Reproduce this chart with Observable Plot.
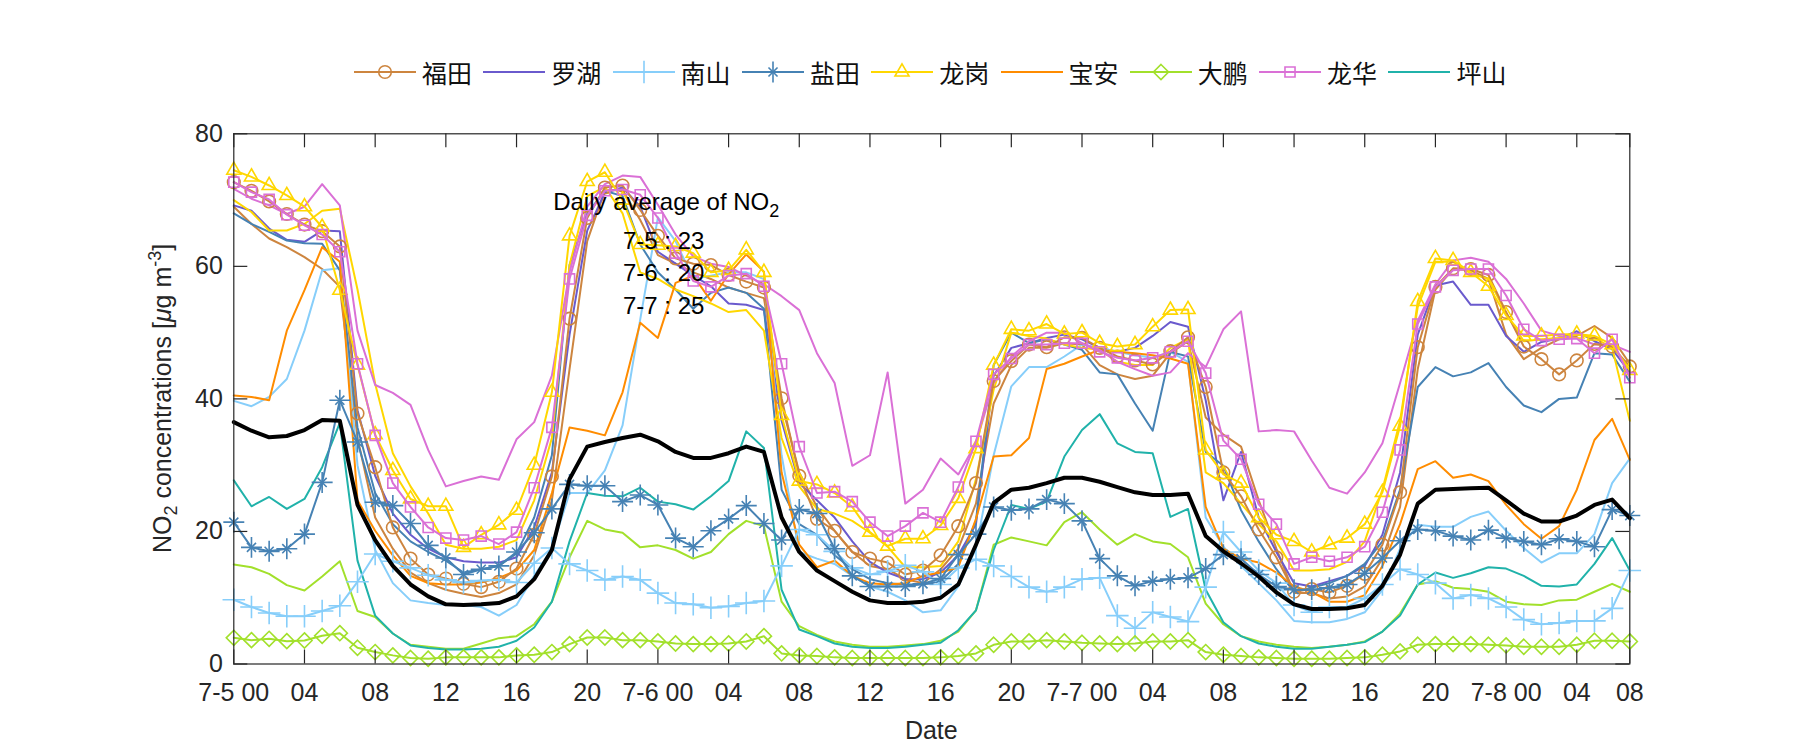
<!DOCTYPE html>
<html>
<head>
<meta charset="utf-8">
<script src="https://cdn.jsdelivr.net/npm/d3@7"></script>
<script src="https://cdn.jsdelivr.net/npm/@observablehq/plot@0.6"></script>
<style>
html, body { margin: 0; padding: 0; background: #fff; }
#wrap { width: 1800px; height: 750px; position: relative; overflow: hidden; background: #fff; }
#legend { position: relative; width: 1800px; height: 100px; }
.item { position: absolute; top: 56.7px; height: 30px; display: flex; align-items: center; }
.item span { font-family: "Noto Sans CJK SC", sans-serif; font-size: 25px; color: #111; margin-left: 6px; line-height: 30px; }
.item svg { display: block; }
</style>
</head>
<body>
<div id="wrap">
  <div id="legend"></div>
  <div id="chart"></div>
</div>
<script>
// ---------------- data ----------------
const districtNames = ["福田", "罗湖", "南山", "盐田", "龙岗", "宝安", "大鹏", "龙华", "坪山"];
const districtColors = ["#CD853F", "#6A5ACD", "#87CEFA", "#4682B4", "#FFD700", "#FF8C00", "#A2E02B", "#DA70D6", "#20B2AA"];
const districtSymbols = ["circle", null, "plus", "asterisk", "triangle2", null, "diamond2", "square2", null];

const xTickPos = [0, 4, 8, 12, 16, 20, 24, 28, 32, 36, 40, 44, 48, 52, 56, 60, 64, 68, 72, 76, 79];
const xTickLabels = ["7-5 00", "04", "08", "12", "16", "20", "7-6 00", "04", "08", "12", "16", "20",
                     "7-7 00", "04", "08", "12", "16", "20", "7-8 00", "04", "08"];
const yTicks = [0, 20, 40, 60, 80];

const dailyAverageLabels = ["7-5 : 23", "7-6 : 20", "7-7 : 25"];

const futianMarked = [72.7,71.4,69.8,67.9,66.3,65.3,63.0,37.8,29.7,20.6,
 15.9,13.5,12.9,12.1,11.6,12.4,14.4,19.5,28.3,52.1,
 67.3,71.9,72.2,68.5,64.6,61.2,60.4,60.2,58.7,57.7,
 56.8,40.1,28.4,21.9,20.1,16.9,15.9,15.3,13.5,14.1,
 16.4,20.8,27.3,42.7,45.7,48.2,47.8,49.3,49.2,47.7,
 46.4,45.8,45.2,47.2,49.3,41.8,28.9,25.3,20.3,16.1,
 10.9,11.3,10.8,11.8,13.6,18.0,25.9,47.8,56.9,59.7,
 59.6,58.7,53.1,47.9,46.0,43.7,45.8,48.3,47.9,44.9];
const futianPlain = [69.0,66.4,64.2,62.9,61.4,59.6,56.9,34.1,22.1,17.4,
 13.8,12.2,11.2,10.6,10.1,10.7,12.0,16.4,24.7,44.5,
 63.8,71.5,71.5,67.0,61.7,60.4,59.1,58.1,56.8,56.0,
 55.2,39.3,28.9,23.7,20.1,16.9,14.8,14.3,12.8,12.2,
 14.3,17.4,24.2,39.3,45.1,47.7,47.7,48.4,48.2,45.1,
 43.7,43.0,43.5,46.9,48.7,37.2,34.6,32.8,24.7,17.4,
 10.7,10.7,9.9,10.2,11.7,15.9,23.7,44.5,56.5,59.6,
 59.4,58.1,49.7,46.0,47.7,49.0,49.5,51.0,49.2,45.3];
const luohu = [69.2,68.4,65.7,64.0,63.7,65.4,65.3,38.3,28.4,22.7,
 19.5,17.4,16.1,15.5,15.3,15.3,16.1,20.6,28.9,49.7,
 65.4,71.1,71.9,69.0,62.2,60.4,58.6,57.0,54.4,54.2,
 53.4,36.7,27.3,24.7,22.1,18.5,15.4,13.8,12.8,12.8,
 13.8,16.4,21.1,43.5,47.7,48.4,49.2,49.7,49.0,47.7,
 47.1,47.7,49.5,51.6,50.9,39.8,24.7,32.0,22.1,16.9,
 12.2,11.7,12.5,13.3,14.8,19.5,28.9,49.7,57.1,57.7,
 54.2,54.2,49.5,47.1,48.6,49.1,50.2,48.7,47.5,44.0];
const nanshanMarked = [9.7,8.6,7.7,7.2,7.2,8.0,8.8,12.4,16.6,15.5,
 14.5,13.4,12.7,12.3,12.6,12.7,12.3,15.2,17.5,15.1,
 14.1,12.7,13.2,12.7,10.7,9.2,9.0,8.5,8.7,9.2,
 9.5,14.8,20.3,19.5,17.0,14.5,13.5,14.0,14.9,13.9,
 12.0,14.5,15.8,14.8,13.2,11.6,10.9,11.6,12.8,13.0,
 7.3,5.4,7.8,7.1,6.4,11.6,19.9,16.9,14.1,12.2,
 8.9,7.8,8.6,8.6,9.9,12.0,14.3,13.5,12.2,9.9,
 10.4,9.9,8.6,6.7,6.0,6.2,6.5,6.5,8.4,14.1];
const nanshanPlain = [39.7,38.9,40.3,43.0,50.3,59.4,59.7,30.0,17.2,12.2,
 9.6,9.2,8.9,8.9,8.6,7.3,8.9,13.3,17.4,25.8,
 25.8,29.2,36.0,52.0,67.4,63.8,58.1,58.6,59.1,59.1,
 58.1,31.5,16.9,15.9,15.1,13.3,11.7,10.9,9.6,7.8,
 8.1,11.7,17.4,31.5,41.9,44.8,44.8,46.4,48.2,47.7,
 47.1,46.6,46.2,47.1,45.6,22.1,17.7,14.8,12.2,9.6,
 6.5,6.3,6.3,6.8,7.8,11.2,17.4,21.0,20.7,20.7,
 22.2,23.0,20.1,17.5,15.3,16.7,16.7,19.6,27.3,31.0];
const yantianMarked = [21.4,17.6,17.0,17.4,19.6,27.4,39.8,33.5,24.4,23.9,
 21.2,17.9,16.0,13.5,14.3,14.8,16.9,19.8,23.4,27.1,
 26.9,26.9,24.5,25.5,24.0,19.0,17.7,20.1,21.9,23.9,
 21.2,18.7,23.3,22.7,17.4,13.3,11.7,11.7,11.7,12.1,
 12.9,16.5,19.6,23.7,23.2,23.4,24.8,24.2,21.6,15.9,
 13.3,11.8,12.5,12.8,13.0,14.4,16.5,15.9,13.5,11.7,
 11.2,11.2,11.5,12.0,13.7,16.0,18.6,20.3,20.1,19.3,
 18.7,20.2,19.0,18.5,18.0,18.9,18.5,17.7,23.3,22.4];
const yantianPlain = [68.0,66.4,65.2,63.9,63.5,63.4,59.4,35.7,25.8,21.1,
 18.5,16.9,15.6,13.8,14.3,14.8,16.7,22.1,31.5,60.2,
 68.0,71.4,70.6,63.3,59.1,56.5,53.6,56.0,56.8,56.0,
 53.6,26.3,21.1,19.5,16.4,14.3,12.8,12.2,12.0,12.0,
 12.5,15.1,21.6,45.1,50.0,48.4,49.0,48.2,47.4,44.0,
 43.7,39.3,35.2,47.1,46.4,32.0,29.9,23.2,18.5,14.3,
 10.9,11.5,12.2,13.3,15.1,18.5,26.3,41.8,44.8,43.4,
 44.0,45.4,41.8,39.0,38.0,40.0,40.2,46.9,46.7,42.6];
const longgangMarked = [74.5,73.5,72.2,70.7,69.0,65.9,56.4,45.1,34.6,29.2,
 24.9,23.8,23.8,17.6,19.5,21.0,23.2,30.0,41.0,64.6,
 72.8,74.2,70.0,63.3,63.2,63.0,62.0,59.1,59.4,62.5,
 59.1,37.5,27.6,27.1,25.8,23.7,19.9,17.8,18.9,18.9,
 20.9,25.0,32.5,45.1,50.5,50.3,51.3,49.8,50.0,48.4,
 47.9,48.2,50.9,53.4,53.5,32.3,28.6,27.3,22.1,19.5,
 18.5,16.9,18.0,19.0,21.1,25.9,35.9,54.7,61.2,60.9,
 59.1,57.0,52.6,49.5,49.5,49.7,49.8,49.5,48.2,44.3];
const longgangPlain = [70.0,68.2,65.4,65.4,66.4,68.4,68.7,56.5,42.3,31.8,
 26.8,22.7,18.0,17.4,17.4,17.7,18.7,24.7,34.1,60.2,
 70.6,72.0,68.0,59.1,58.1,56.5,55.5,54.4,53.1,53.4,
 50.3,34.1,26.8,23.4,22.7,21.6,19.8,17.7,14.6,14.6,
 14.8,18.5,27.9,41.4,50.0,49.5,49.1,48.2,47.7,47.4,
 45.6,45.1,45.1,47.7,49.0,28.9,27.3,24.2,21.1,18.5,
 14.1,14.1,14.3,15.4,18.5,26.3,36.7,53.9,60.7,60.7,
 58.9,58.1,52.9,48.7,49.0,49.2,49.7,49.2,47.7,36.7];
const baoan = [40.5,40.3,39.8,50.3,56.4,62.9,60.7,24.7,20.1,16.4,
 13.3,12.2,12.0,12.0,12.3,13.0,14.1,17.2,25.8,35.7,
 35.2,34.5,41.0,51.5,49.2,57.5,58.6,54.8,58.8,61.8,
 59.2,28.9,18.0,14.6,15.6,13.3,12.2,12.0,12.2,13.3,
 13.8,14.6,21.9,31.3,31.5,34.1,44.5,45.3,46.4,47.4,
 47.1,46.9,46.6,46.1,45.3,23.7,17.4,15.9,15.3,13.8,
 11.7,10.9,9.4,9.4,10.4,14.8,21.1,29.4,30.6,28.1,
 28.6,27.6,24.0,21.1,18.9,20.8,26.3,33.8,37.0,30.8];
const dapengMarked = [3.95,3.6,3.8,3.45,3.55,4.25,4.65,2.45,1.8,1.3,
 0.9,0.8,1.0,1.0,1.0,1.0,1.3,1.4,1.8,3.0,
 4.0,4.0,3.6,3.6,3.4,3.1,3.0,3.0,3.1,3.4,
 4.2,1.6,1.3,1.2,1.0,0.9,0.9,0.9,0.9,0.9,
 1.0,1.2,1.6,2.9,3.4,3.4,3.6,3.4,3.2,3.1,
 3.0,3.1,3.4,3.4,3.6,1.8,1.4,1.2,1.0,0.9,
 0.8,0.8,0.8,0.9,1.0,1.4,1.9,2.9,3.0,3.0,
 3.0,2.9,2.8,2.6,2.6,2.6,2.9,3.5,3.5,3.4];
const dapengPlain = [15.0,14.6,13.6,11.9,11.1,13.2,15.5,8.0,7.1,4.6,
 2.9,2.6,2.3,2.3,3.1,3.9,4.2,6.0,9.4,16.1,
 21.6,20.3,19.8,17.6,17.9,17.2,15.9,16.9,19.6,21.6,
 20.8,9.4,5.7,4.4,3.4,2.9,2.6,2.6,2.8,3.0,
 3.5,4.9,8.1,18.0,19.1,18.5,17.9,21.4,22.9,20.3,
 18.0,19.6,18.5,18.1,16.1,9.1,6.0,4.2,3.4,2.9,
 2.6,2.4,2.6,2.9,3.4,4.9,7.6,12.0,12.5,11.5,
 11.3,10.9,9.4,9.0,8.9,9.6,9.7,10.9,12.1,10.9];
const longhuaMarked = [72.7,71.2,70.1,67.8,66.2,64.8,62.2,45.3,34.5,27.3,
 23.7,20.6,19.0,18.7,19.3,18.1,19.9,26.6,35.7,58.1,
 67.7,71.4,71.6,70.8,67.3,62.0,57.8,56.9,58.6,58.9,
 57.0,45.3,32.8,25.8,26.0,24.5,21.4,19.3,20.8,22.8,
 21.4,26.7,33.6,43.7,46.1,48.2,48.2,48.4,48.4,47.1,
 46.2,45.8,46.2,47.1,48.7,43.9,33.7,30.9,24.1,21.1,
 15.1,16.1,15.5,16.1,17.7,22.9,32.3,51.3,56.9,59.4,
 59.6,59.6,55.6,50.5,48.8,49.0,49.1,46.9,49.0,43.2];
const longhuaPlain = [71.7,70.2,69.2,67.9,69.0,72.4,69.2,50.3,42.1,40.9,
 39.1,32.3,26.8,27.6,28.3,27.8,33.9,36.5,43.5,59.1,
 69.0,72.4,73.7,73.5,69.3,64.8,61.5,60.4,59.9,58.6,
 57.3,55.5,53.4,46.9,42.4,29.9,31.5,44.0,24.2,26.3,
 31.0,28.6,33.3,42.4,46.4,48.7,50.0,50.0,48.4,47.4,
 45.6,44.5,43.5,44.0,46.9,44.8,50.5,53.2,35.1,35.3,
 35.1,30.7,26.6,25.7,28.9,33.3,42.4,51.8,57.3,60.9,
 61.3,60.7,58.1,54.4,50.3,49.5,49.2,48.2,48.2,47.1];
const pingshan = [27.7,23.8,25.2,23.4,24.9,29.7,36.4,15.6,7.3,4.6,
 2.8,2.4,2.2,2.2,2.3,2.6,3.5,5.5,9.4,18.5,
 25.8,25.4,25.3,26.6,24.5,24.1,23.3,25.3,27.6,35.1,
 32.6,11.2,5.2,4.2,3.1,2.6,2.4,2.4,2.6,2.9,
 3.2,5.1,8.1,17.2,24.0,23.4,24.5,31.3,35.3,37.7,
 33.3,32.0,31.8,22.2,23.4,11.2,6.3,4.2,3.1,2.6,
 2.3,2.3,2.6,2.9,3.3,4.9,7.3,12.0,13.8,13.0,
 13.7,14.6,14.4,13.3,11.8,11.7,12.0,15.1,19.0,14.1];
const cityAverage = [36.5,35.2,34.2,34.4,35.3,36.8,36.7,24.0,18.7,14.8,
 12.0,10.2,9.0,8.9,9.0,9.2,10.2,12.8,17.2,27.9,
 32.8,33.5,34.1,34.6,33.6,32.0,31.1,31.1,31.8,32.8,
 32.0,22.1,16.9,14.1,12.5,10.9,9.6,9.2,9.2,9.4,
 10.0,12.0,18.0,24.3,26.3,26.6,27.3,28.1,28.1,27.5,
 26.7,25.9,25.5,25.5,25.7,19.3,17.0,15.2,13.2,10.8,
 9.0,8.3,8.3,8.4,8.9,11.8,16.5,24.2,26.3,26.4,
 26.5,26.6,24.7,22.7,21.5,21.5,22.4,24.0,24.8,22.0];

// series: [values, district index]
const plainSeries = [
  [futianPlain, 0], [luohu, 1], [nanshanPlain, 2], [yantianPlain, 3], [longgangPlain, 4],
  [baoan, 5], [dapengPlain, 6], [longhuaPlain, 7], [pingshan, 8]
];
const markedSeries = [
  [futianMarked, 0], [nanshanMarked, 2], [yantianMarked, 3], [longgangMarked, 4],
  [dapengMarked, 6], [longhuaMarked, 7]
];

// ---------------- styles ----------------
const symbolRadius = {circle: 6.3, plus: 7.3, asterisk: 6.8, triangle2: 6.7, diamond2: 6.8, square2: 6.4};
const axisColor = "#262626";
const W = 1800, H = 650;
const mL = 233.3, mR = 170.7, mT = 33.3, mB = 86.5;
const innerW = W - mL - mR, innerH = H - mT - mB;
const tickLen = 14;

const toRows = vals => vals.map((v, i) => ({i, v}));
const labelOf = new Map(xTickPos.map((p, k) => [p, xTickLabels[k]]));

const marks = [];
for (const [vals, d] of plainSeries) {
  marks.push(Plot.line(toRows(vals), {x: "i", y: "v", stroke: districtColors[d], strokeWidth: 2, strokeLinejoin: "round"}));
}
for (const [vals, d] of markedSeries) {
  const rows = toRows(vals);
  const col = districtColors[d];
  const sym = districtSymbols[d];
  marks.push(Plot.line(rows, {x: "i", y: "v", stroke: col, strokeWidth: 2, strokeLinejoin: "round"}));
  if (sym === "asterisk") {
    marks.push(Plot.dot(rows, {x: "i", y: "v", symbol: "plus", r: 6.8, stroke: col, fill: "none", strokeWidth: 1.6}));
    marks.push(Plot.dot(rows, {x: "i", y: "v", symbol: "times", r: 4.2, stroke: col, fill: "none", strokeWidth: 1.6}));
  } else {
    marks.push(Plot.dot(rows, {x: "i", y: "v", symbol: sym, r: symbolRadius[sym], stroke: col, fill: "none", strokeWidth: 1.6}));
  }
}
marks.push(Plot.line(toRows(cityAverage), {x: "i", y: "v", stroke: "#000", strokeWidth: 4, strokeLinejoin: "round"}));

marks.push(Plot.frame({stroke: axisColor, strokeWidth: 1.2}));
marks.push(Plot.tickY(yTicks, {y: d => d, insetRight: innerW - tickLen, stroke: axisColor, strokeWidth: 1.2}));
marks.push(Plot.tickY(yTicks, {y: d => d, insetLeft: innerW - tickLen, stroke: axisColor, strokeWidth: 1.2}));
marks.push(Plot.tickX(xTickPos, {x: d => d, insetTop: innerH - tickLen, stroke: axisColor, strokeWidth: 1.2}));
marks.push(Plot.tickX(xTickPos, {x: d => d, insetBottom: innerH - tickLen, stroke: axisColor, strokeWidth: 1.2}));
marks.push(Plot.axisY({ticks: yTicks, tickSize: 0, tickPadding: 11, fontSize: 25, label: null}));
marks.push(Plot.axisX({ticks: xTickPos, tickSize: 0, tickPadding: 19.5, fontSize: 25, label: null, tickFormat: d => labelOf.get(d)}));

const chart = Plot.plot({
  width: W, height: H,
  marginLeft: mL, marginRight: mR, marginTop: mT, marginBottom: mB,
  x: {domain: [0, 79], label: null},
  y: {domain: [0, 80], label: null},
  style: {fontFamily: "'Liberation Sans', Arial, sans-serif", fontSize: "25px", color: axisColor, background: "#fff", overflow: "visible"},
  marks
});
document.getElementById("chart").appendChild(chart);

// ---------------- texts with sub/superscripts ----------------
const svg = d3.select(chart);
const xs = chart.scale("x"), ys = chart.scale("y");
const font = "'Liberation Sans', Arial, sans-serif";

const yl = svg.append("text")
  .attr("transform", `translate(171,${(mT + H - mB) / 2}) rotate(-90)`)
  .attr("text-anchor", "middle").attr("fill", axisColor)
  .style("font-family", font).style("font-size", "25px");
yl.append("tspan").text("NO");
yl.append("tspan").attr("dy", 6).style("font-size", "18px").text("2");
yl.append("tspan").attr("dy", -6).text(" concentrations [");
yl.append("tspan").style("font-style", "italic").text("μ");
yl.append("tspan").text("g m");
yl.append("tspan").attr("dy", -10).style("font-size", "18px").text("-3");
yl.append("tspan").attr("dy", 10).text("]");

svg.append("text")
  .attr("x", xs.apply(39.5)).attr("y", H - mB + 75.5)
  .attr("text-anchor", "middle").attr("fill", axisColor)
  .style("font-family", font).style("font-size", "25px").text("Date");

const annoTitlePos = [18.1, 68.4];
const annoLinePos = [[22.05, 62.6], [22.05, 57.7], [22.05, 52.8]];
const at = svg.append("text")
  .attr("x", xs.apply(annoTitlePos[0])).attr("y", ys.apply(annoTitlePos[1]))
  .attr("text-anchor", "start")
  .attr("fill", "#000").style("font-family", font).style("font-size", "24px");
at.append("tspan").text("Daily average of NO");
at.append("tspan").attr("dy", 7).style("font-size", "18px").text("2");
dailyAverageLabels.forEach((t, k) => {
  svg.append("text")
    .attr("x", xs.apply(annoLinePos[k][0])).attr("y", ys.apply(annoLinePos[k][1]))
    .attr("text-anchor", "start")
    .attr("fill", "#000").style("font-family", font).style("font-size", "24px").text(t);
});

// ---------------- legend ----------------
const legendLeft = 354, legendStep = 129.3;
const d3Sym = {circle: d3.symbolCircle, plus: d3.symbolPlus, times: d3.symbolTimes,
  triangle2: d3.symbolTriangle2, diamond2: d3.symbolDiamond2, square2: d3.symbolSquare2};
const legend = d3.select("#legend");
districtNames.forEach((name, k) => {
  const col = districtColors[k];
  const sym = districtSymbols[k];
  const item = legend.append("div").attr("class", "item").style("left", (legendLeft + k * legendStep) + "px");
  const s = item.append("svg").attr("width", 62).attr("height", 30);
  s.append("line").attr("x1", 0).attr("x2", 62).attr("y1", 15).attr("y2", 15)
    .attr("stroke", col).attr("stroke-width", 2);
  const addSym = (type, r) => s.append("path").attr("transform", "translate(31,15)")
    .attr("d", d3.symbol(d3Sym[type], Math.PI * r * r)())
    .attr("fill", "none").attr("stroke", col).attr("stroke-width", 1.6);
  if (sym === "asterisk") { addSym("plus", 6.8); addSym("times", 4.2); }
  else if (sym) addSym(sym, symbolRadius[sym]);
  item.append("span").text(name);
});
</script>
</body>
</html>
